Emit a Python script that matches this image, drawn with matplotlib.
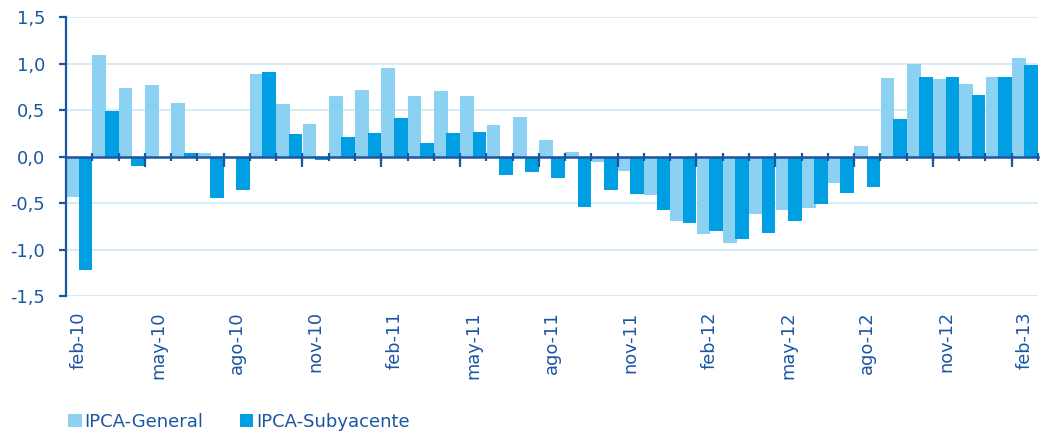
import numpy as np
import matplotlib
matplotlib.use('Agg')
import matplotlib.pyplot as plt
from matplotlib.ticker import FuncFormatter, FixedLocator

plt.rcParams['font.family'] = ['DejaVu Sans']

# monthly data, feb-10 .. feb-13
months = ['feb-10', 'mar-10', 'abr-10', 'may-10', 'jun-10', 'jul-10', 'ago-10', 'sep-10',
          'oct-10', 'nov-10', 'dic-10', 'ene-11', 'feb-11', 'mar-11', 'abr-11', 'may-11',
          'jun-11', 'jul-11', 'ago-11', 'sep-11', 'oct-11', 'nov-11', 'dic-11', 'ene-12',
          'feb-12', 'mar-12', 'abr-12', 'may-12', 'jun-12', 'jul-12', 'ago-12', 'sep-12',
          'oct-12', 'nov-12', 'dic-12', 'ene-13', 'feb-13']
general = [-0.44, 1.09, 0.74, 0.77, 0.58, 0.04, 0.0, 0.89, 0.56, 0.35, 0.65, 0.71, 0.95,
           0.65, 0.70, 0.65, 0.34, 0.43, 0.18, 0.05, -0.06, -0.16, -0.41, -0.69, -0.83,
           -0.93, -0.62, -0.57, -0.55, -0.28, 0.11, 0.84, 1.00, 0.83, 0.78, 0.85, 1.06]
subyacente = [-1.22, 0.49, -0.10, -0.02, 0.04, -0.45, -0.36, 0.91, 0.24, -0.04, 0.21, 0.25,
              0.41, 0.14, 0.25, 0.26, -0.20, -0.17, -0.23, -0.54, -0.36, -0.40, -0.57, -0.71,
              -0.80, -0.89, -0.82, -0.69, -0.51, -0.39, -0.33, 0.40, 0.86, 0.85, 0.66, 0.85, 0.98]

c_gen = '#8dd1f2'
c_sub = '#009fe3'
c_dark = '#1c56a3'
c_grid = '#cdeaf8'

x = np.arange(len(months))

fig = plt.figure(figsize=(10.42, 4.33), dpi=100)
ax = fig.add_axes([0.0633, 0.3164, 0.9329, 0.6443])

ax.bar(x - 0.23, general, width=0.52, color=c_gen, label='IPCA-General', zorder=2)
ax.bar(x + 0.24, subyacente, width=0.52, color=c_sub, label='IPCA-Subyacente', zorder=3)

ax.set_xlim(-0.5, len(months) - 0.5)
ax.set_ylim(-1.5, 1.5)
ax.set_yticks(np.arange(-1.5, 1.51, 0.5))
ax.yaxis.set_major_formatter(FuncFormatter(lambda v, p: f'{v:.1f}'.replace('.', ',')))
ax.grid(axis='y', color=c_grid, lw=1.2)
ax.set_axisbelow(True)
ax.xaxis.set_zorder(5)

for s in ['top', 'right']:
    ax.spines[s].set_visible(False)
ax.spines['left'].set_color(c_dark)
ax.spines['left'].set_linewidth(1.6)
ax.spines['bottom'].set_position(('data', 0))
ax.spines['bottom'].set_color(c_dark)
ax.spines['bottom'].set_linewidth(1.8)
ax.spines['bottom'].set_zorder(4)

ax.tick_params(axis='y', colors=c_dark, labelsize=12.8, length=5, width=1.6, pad=10)

# ticks on the zero line: every month boundary, longer every quarter
ax.xaxis.remove_overlapping_locs = False
ax.xaxis.set_major_locator(FixedLocator(np.arange(2.5, len(months), 3)))
ax.xaxis.set_minor_locator(FixedLocator(np.arange(0.5, len(months), 1)))
ax.tick_params(axis='x', which='major', direction='out', length=7, width=1.6,
               color=c_dark, labelbottom=False)
ax.tick_params(axis='x', which='minor', direction='inout', length=6, width=1.6, color=c_dark)

# month labels at the bottom
sec = ax.secondary_xaxis(0)
sec.spines['bottom'].set_visible(False)
sec.set_xticks(x[::3], [months[i] for i in x[::3]])
sec.tick_params(axis='x', length=0, rotation=90, labelsize=12.8, colors=c_dark, pad=11)

leg = fig.legend(loc='lower left', bbox_to_anchor=(0.050, -0.032), ncol=2, frameon=False,
                 fontsize=13, handlelength=0.75, handleheight=0.75, handletextpad=0.15,
                 columnspacing=2.0)
for t in leg.get_texts():
    t.set_color(c_dark)

fig.savefig('out.png', dpi=100)
